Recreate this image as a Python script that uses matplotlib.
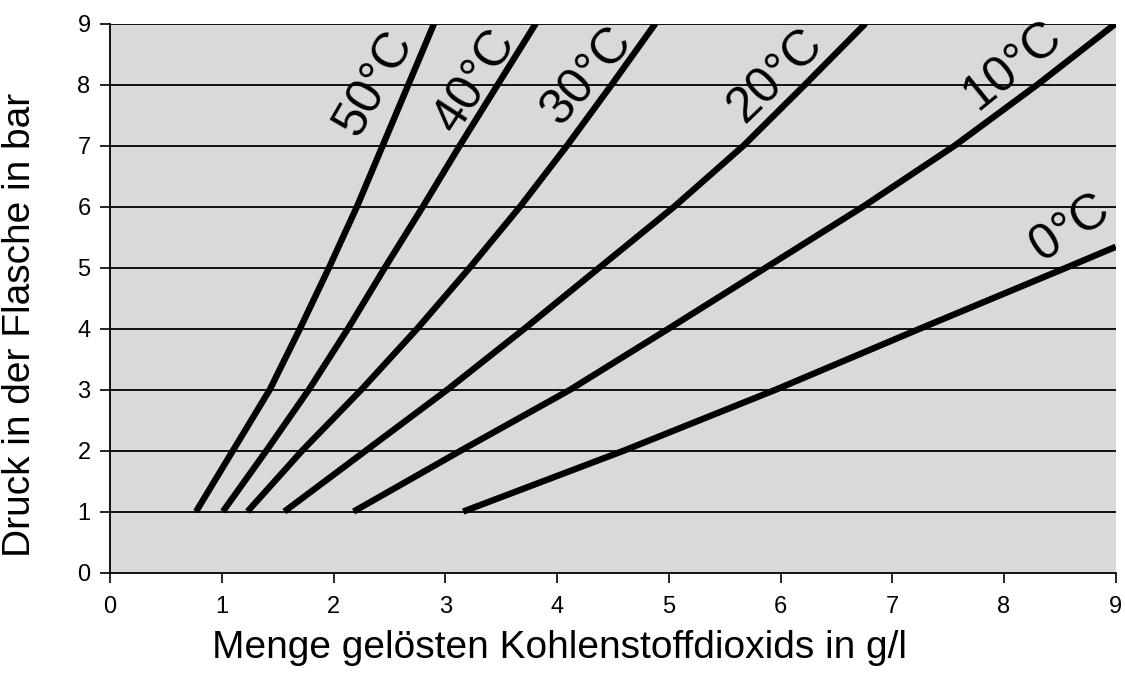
import matplotlib
matplotlib.use("Agg")
import matplotlib.pyplot as plt

plt.rcParams['font.family'] = ['Liberation Sans', 'DejaVu Sans']

# Pressure levels (bar)
pressure = [1, 2, 3, 4, 5, 6, 7, 8, 9]

# Dissolved CO2 (g/l) at each pressure, per temperature
co2_50 = [0.77, 1.10, 1.43, 1.70, 1.96, 2.21, 2.44, 2.67, 2.90]
co2_40 = [1.01, 1.40, 1.78, 2.13, 2.46, 2.80, 3.13, 3.47, 3.81]
co2_30 = [1.23, 1.72, 2.25, 2.75, 3.22, 3.67, 4.09, 4.49, 4.88]
co2_20 = [1.56, 2.29, 3.02, 3.71, 4.38, 5.05, 5.67, 6.22, 6.76]
co2_10 = [2.18, 3.14, 4.12, 5.00, 5.87, 6.74, 7.56, 8.30, 9.00]
co2_0_x = [3.16, 4.60, 5.96, 7.25, 8.56, 9.00]
co2_0_y = [1, 2, 3, 4, 5, 5.34]

labels = ["50°C", "40°C", "30°C", "20°C", "10°C", "0°C"]
label_x = [2.37, 3.27, 4.27, 5.96, 8.08, 8.59]
label_y = [8.03, 8.06, 8.14, 8.14, 8.30, 5.65]
label_rot = [60, 57, 49, 44, 39, 33]

x_ticks = [0, 1, 2, 3, 4, 5, 6, 7, 8, 9]
y_ticks = [0, 1, 2, 3, 4, 5, 6, 7, 8, 9]

fig = plt.figure(figsize=(11.25, 6.8), dpi=100)
ax = fig.add_axes([0.0978, 0.158, 0.894, 0.8074])
ax.set_facecolor('#d9d9d9')

for yv in y_ticks[1:]:
    ax.axhline(yv, color='black', lw=1.3, zorder=1)

series = [(co2_50, pressure), (co2_40, pressure), (co2_30, pressure),
          (co2_20, pressure), (co2_10, pressure), (co2_0_x, co2_0_y)]
for xs, ys in series:
    ax.plot(xs, ys, color='black', lw=4.6, solid_capstyle='butt',
            solid_joinstyle='round', zorder=3)

for t, lx, ly, r in zip(labels, label_x, label_y, label_rot):
    ax.text(lx, ly, t, rotation=r, rotation_mode='anchor', ha='center', va='center',
            fontsize=36, color='black', zorder=4)

ax.set_xlim(0, 9)
ax.set_ylim(0, 9)
ax.set_xticks(x_ticks)
ax.set_yticks(y_ticks)
ax.tick_params(axis='both', direction='out', length=7, width=1.2, labelsize=17, colors='black')
ax.tick_params(axis='x', pad=10)
ax.tick_params(axis='y', pad=7)
for s in ['top', 'right']:
    ax.spines[s].set_visible(False)
for s in ['left', 'bottom']:
    ax.spines[s].set_linewidth(1.3)

ax.set_xlabel("Menge gelösten Kohlenstoffdioxids in g/l", fontsize=28)
ax.set_ylabel("Druck in der Flasche in bar", fontsize=28)
ax.xaxis.set_label_coords(0.447, -0.105)
ax.yaxis.set_label_coords(-0.072, 0.451)

fig.savefig("out.png", dpi=100)
